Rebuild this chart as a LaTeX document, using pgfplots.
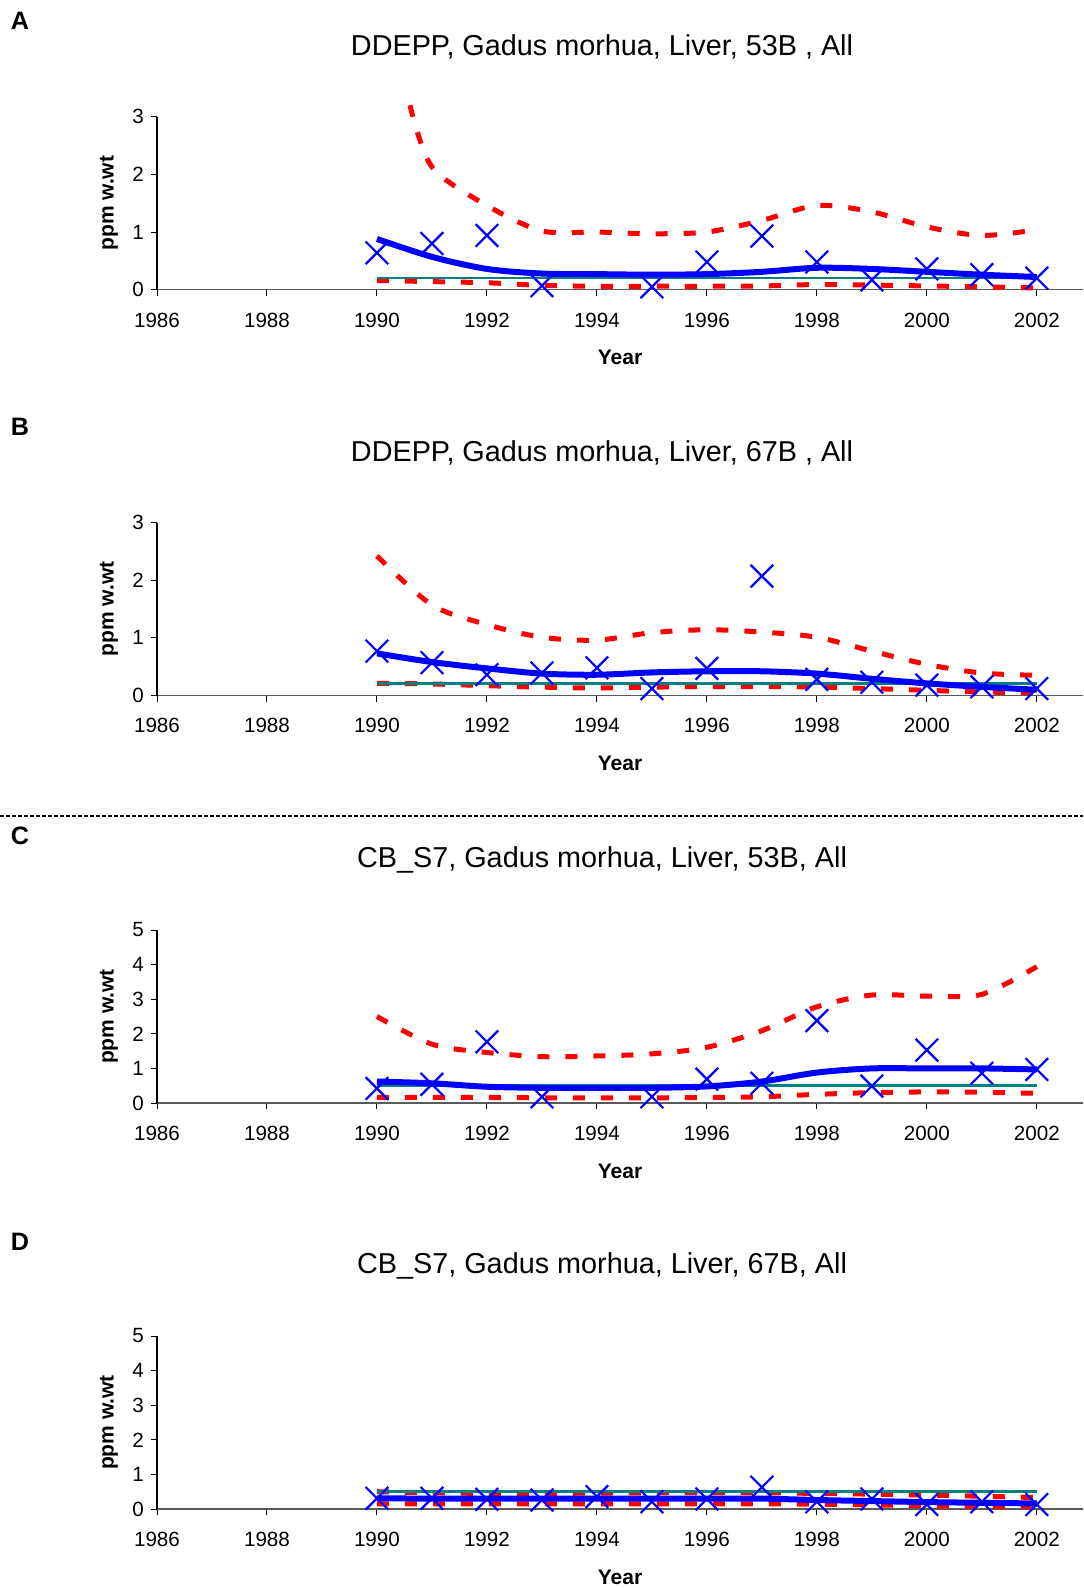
\documentclass[border=0pt]{standalone}
\usepackage{fontspec}
\setmainfont{Liberation Sans}
\usepackage{pgfplots}
\pgfplotsset{compat=1.18}

\definecolor{trendblue}{RGB}{0,0,255}
\definecolor{bandred}{RGB}{255,0,0}
\definecolor{refteal}{RGB}{0,128,128}

% 1 px of the reference = 0.5pt
\pgfplotsset{
  panel/.style={
    scale only axis, width=463pt, height=86.5pt,
    xmin=1986, xmax=2002.84, ymin=0,
    axis x line*=bottom, axis y line*=left,
    x axis line style={black!65, line width=0.8pt},
    y axis line style={black, line width=0.6pt},
    xtick={1986,1988,...,2002},
    tick align=outside, major tick length=3pt,
    tick style={black, line width=0.5pt},
    ticklabel style={font=\fontsize{10.3}{12}\selectfont},
    xticklabel style={yshift=-5pt},
    /pgf/number format/assume math mode=true,
    /pgf/number format/1000 sep={},
    xlabel={\textbf{Year}}, ylabel={\textbf{ppm w.wt}},
    xlabel style={at={(axis description cs:0.5,-0.393)}, anchor=center, font=\fontsize{10.5}{12}\selectfont},
    ylabel style={at={(axis description cs:-0.052,0.5)}, anchor=center, font=\fontsize{10.5}{12}\selectfont},
    title style={at={(axis description cs:0.4806,1.334)}, anchor=center, font=\fontsize{14.4}{16}\selectfont},
    clip=false,
  },
  upper/.style={bandred, line width=2.5pt, dash pattern=on 6pt off 8pt, smooth},
  lower/.style={bandred, line width=2.5pt, dash pattern=on 6pt off 8pt, smooth},
  trend/.style={trendblue, line width=3pt, smooth},
  ref/.style={refteal, line width=1.3pt},
  obs/.style={only marks, mark=x, mark size=8pt, mark options={trendblue, line width=1.1pt}},
}

\begin{document}
\begin{tikzpicture}
\useasboundingbox (0,0) rectangle (541.5pt,-794pt);

% ---------- A ----------
\node[font=\bfseries\fontsize{12.6}{14}\selectfont] at (10pt,-10.2pt) {A};
\begin{axis}[panel, at={(78.5pt,-144.85pt)}, anchor=south west,
  ymax=3, ytick={0,1,2,3},
  title={DDEPP, Gadus morhua, Liver, 53B , All}]
\addplot[upper] coordinates {(1990.6,3.2) (1991,2.13) (1992,1.46) (1993,1.02) (1994,1.0) (1995,0.97) (1996,1.0) (1997,1.2) (1998,1.46) (1999,1.35) (2000,1.09) (2001,0.94) (2002,1.04)};
\addplot[lower] coordinates {(1990,0.16) (1991,0.14) (1992,0.12) (1993,0.075) (1994,0.06) (1995,0.06) (1996,0.06) (1997,0.065) (1998,0.09) (1999,0.08) (2000,0.065) (2001,0.05) (2002,0.03)};
\addplot[ref] coordinates {(1990,0.2) (2002,0.2)};
\addplot[trend] coordinates {(1990,0.88) (1991,0.57) (1992,0.36) (1993,0.28) (1994,0.27) (1995,0.26) (1996,0.27) (1997,0.31) (1998,0.38) (1999,0.36) (2000,0.31) (2001,0.26) (2002,0.22)};
\addplot[obs] coordinates {(1990,0.64) (1991,0.80) (1992,0.94) (1993,0.07) (1995,0.05) (1996,0.48) (1997,0.93) (1998,0.48) (1999,0.17) (2000,0.36) (2001,0.26) (2002,0.20)};
\end{axis}

% ---------- B ----------
\node[font=\bfseries\fontsize{12.6}{14}\selectfont] at (10pt,-213.3pt) {B};
\begin{axis}[panel, at={(78.5pt,-347.75pt)}, anchor=south west,
  ymax=3, ytick={0,1,2,3},
  title={DDEPP, Gadus morhua, Liver, 67B , All}]
\addplot[upper] coordinates {(1990,2.42) (1991,1.57) (1992,1.23) (1993,1.01) (1994,0.96) (1995,1.09) (1996,1.14) (1997,1.10) (1998,1.01) (1999,0.77) (2000,0.54) (2001,0.39) (2002,0.35)};
\addplot[lower] coordinates {(1990,0.21) (1991,0.20) (1992,0.17) (1993,0.145) (1994,0.13) (1995,0.145) (1996,0.155) (1997,0.155) (1998,0.145) (1999,0.12) (2000,0.09) (2001,0.06) (2002,0.05)};
\addplot[ref] coordinates {(1990,0.21) (2002,0.21)};
\addplot[trend] coordinates {(1990,0.73) (1991,0.58) (1992,0.47) (1993,0.38) (1994,0.36) (1995,0.40) (1996,0.42) (1997,0.42) (1998,0.38) (1999,0.29) (2000,0.21) (2001,0.15) (2002,0.10)};
\addplot[obs] coordinates {(1990,0.77) (1991,0.57) (1992,0.36) (1993,0.39) (1994,0.48) (1995,0.12) (1996,0.47) (1997,2.07) (1998,0.28) (1999,0.23) (2000,0.18) (2001,0.15) (2002,0.12)};
\end{axis}

% separator
\draw[line width=1pt, dash pattern=on 2pt off 1pt] (0,-407.75pt) -- (541.5pt,-407.75pt);

% ---------- C ----------
\node[font=\bfseries\fontsize{12.6}{14}\selectfont] at (10pt,-417.9pt) {C};
\begin{axis}[panel, at={(78.5pt,-551.5pt)}, anchor=south west,
  ymax=5, ytick={0,1,2,3,4,5},
  title={CB\_S7, Gadus morhua, Liver, 53B, All}]
\addplot[upper] coordinates {(1990,2.5) (1991,1.70) (1992,1.46) (1993,1.34) (1994,1.36) (1995,1.42) (1996,1.61) (1997,2.09) (1998,2.78) (1999,3.12) (2000,3.09) (2001,3.14) (2002,3.94)};
\addplot[lower] coordinates {(1990,0.16) (1991,0.16) (1992,0.16) (1993,0.15) (1994,0.15) (1995,0.15) (1996,0.16) (1997,0.18) (1998,0.25) (1999,0.30) (2000,0.32) (2001,0.31) (2002,0.28)};
\addplot[ref] coordinates {(1990,0.51) (2002,0.51)};
\addplot[trend] coordinates {(1990,0.62) (1991,0.57) (1992,0.47) (1993,0.44) (1994,0.44) (1995,0.44) (1996,0.48) (1997,0.62) (1998,0.88) (1999,1.0) (2000,1.0) (2001,1.0) (2002,0.97)};
\addplot[obs] coordinates {(1990,0.42) (1991,0.54) (1992,1.77) (1993,0.18) (1995,0.18) (1996,0.69) (1997,0.57) (1998,2.38) (1999,0.49) (2000,1.53) (2001,0.86) (2002,0.97)};
\end{axis}

% ---------- D ----------
\node[font=\bfseries\fontsize{12.6}{14}\selectfont] at (10pt,-621pt) {D};
\begin{axis}[panel, at={(78.5pt,-754.5pt)}, anchor=south west,
  ymax=5, ytick={0,1,2,3,4,5},
  title={CB\_S7, Gadus morhua, Liver, 67B, All}]
\addplot[upper] coordinates {(1990,0.50) (1991,0.47) (1992,0.45) (1993,0.45) (1994,0.46) (1995,0.47) (1996,0.47) (1997,0.47) (1998,0.45) (1999,0.43) (2000,0.40) (2001,0.37) (2002,0.33)};
\addplot[lower] coordinates {(1990,0.15) (1991,0.15) (1992,0.15) (1993,0.15) (1994,0.15) (1995,0.15) (1996,0.15) (1997,0.15) (1998,0.14) (1999,0.12) (2000,0.09) (2001,0.08) (2002,0.06)};
\addplot[ref] coordinates {(1990,0.50) (2002,0.50)};
\addplot[trend] coordinates {(1990,0.31) (1991,0.30) (1992,0.30) (1993,0.30) (1994,0.30) (1995,0.30) (1996,0.30) (1997,0.30) (1998,0.26) (1999,0.23) (2000,0.20) (2001,0.18) (2002,0.16)};
\addplot[obs] coordinates {(1990,0.31) (1991,0.31) (1992,0.28) (1993,0.26) (1994,0.36) (1995,0.21) (1996,0.29) (1997,0.63) (1998,0.21) (1999,0.29) (2000,0.13) (2001,0.21) (2002,0.13)};
\end{axis}
\end{tikzpicture}
\end{document}
